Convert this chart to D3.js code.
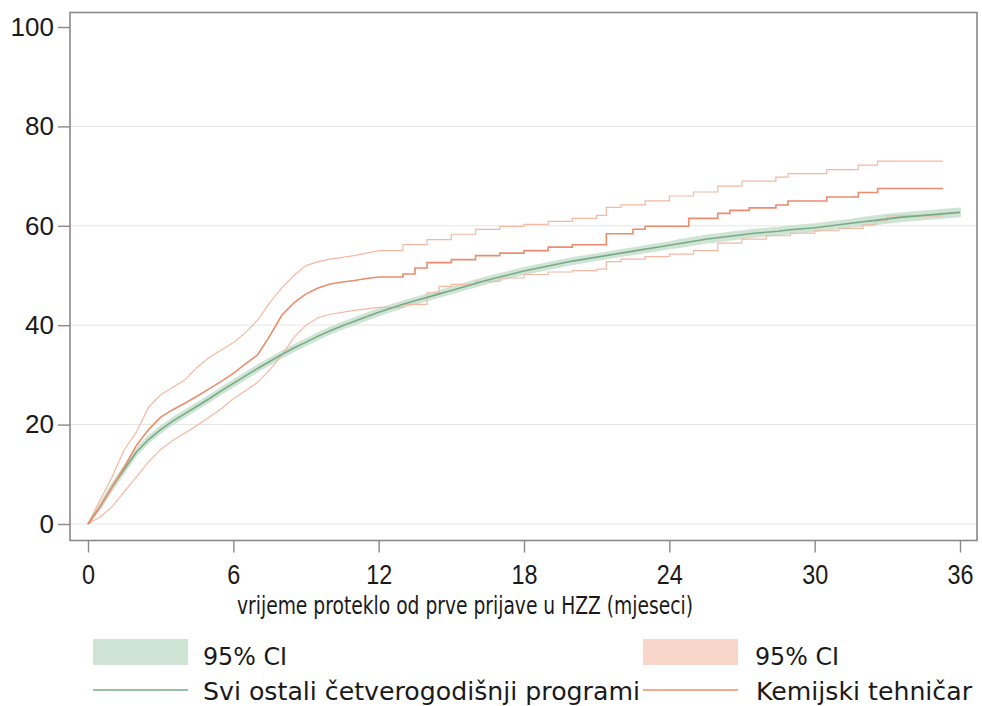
<!DOCTYPE html>
<html>
<head>
<meta charset="utf-8">
<script src="https://cdn.jsdelivr.net/npm/d3@7"></script>
<style>
  html, body { margin: 0; padding: 0; background: #fff; }
  svg { display: block; }
</style>
</head>
<body>
<svg id="chart" width="982" height="706"></svg>
<script>
// Kaplan–Meier failure estimates (% registered, cumulative) by months since first HZZ registration.
// Each entry: [month, percent].

const xTicks = [0, 6, 12, 18, 24, 30, 36];
const yTicks = [0, 20, 40, 60, 80, 100];
const gridValues = [0, 20, 40, 60, 80];

const seriesNames = ["Svi ostali četverogodišnji programi", "Kemijski tehničar"];
const ciLabel = "95% CI";
const xTitle = "vrijeme proteklo od prve prijave u HZZ (mjeseci)";

// All other four-year programmes: estimate
const otherEst = [
  [0,0],[0.5,3.5],[1,7.5],[1.5,11],[2,14.5],[2.5,17],[3,19],[3.5,20.7],[4,22.2],[4.5,23.7],
  [5,25.2],[5.5,26.8],[6,28.3],[6.5,29.8],[7,31.3],[7.5,32.7],[8,34.1],[8.5,35.4],[9,36.6],[9.5,37.8],
  [10,38.9],[10.5,39.9],[11,40.8],[11.5,41.7],[12,42.6],[12.5,43.4],[13,44.2],[13.5,44.9],[14,45.6],[14.5,46.3],
  [15,47.0],[15.5,47.7],[16,48.4],[16.5,49.1],[17,49.7],[17.5,50.3],[18,50.9],[18.5,51.4],[19,51.9],[19.5,52.4],
  [20,52.9],[20.5,53.3],[21,53.7],[21.5,54.1],[22,54.5],[22.5,54.9],[23,55.3],[23.5,55.7],[24,56.1],[24.5,56.5],
  [25,56.9],[25.5,57.3],[26,57.6],[26.5,57.9],[27,58.2],[27.5,58.5],[28,58.7],[28.5,58.9],[29,59.2],[29.5,59.4],
  [30,59.6],[30.5,59.9],[31,60.2],[31.5,60.5],[32,60.8],[32.5,61.1],[33,61.4],[33.5,61.7],[34,61.9],[34.5,62.1],
  [35,62.3],[35.5,62.5],[36,62.7]
];
// All other four-year programmes: 95% CI lower bound
const otherLo = [
  [0,0],[0.5,3.0],[1,6.9],[1.5,10.4],[2,13.9],[2.5,16.4],[3,18.4],[3.5,20.1],[4,21.6],[4.5,23.1],
  [5,24.6],[5.5,26.2],[6,27.7],[6.5,29.2],[7,30.7],[7.5,32.1],[8,33.5],[8.5,34.8],[9,36.0],[9.5,37.2],
  [10,38.3],[10.5,39.3],[11,40.2],[11.5,41.1],[12,42.0],[12.5,42.8],[13,43.6],[13.5,44.3],[14,45.0],[14.5,45.7],
  [15,46.4],[15.5,47.1],[16,47.8],[16.5,48.5],[17,49.1],[17.5,49.7],[18,50.3],[18.5,50.8],[19,51.3],[19.5,51.8],
  [20,52.3],[20.5,52.7],[21,53.1],[21.5,53.5],[22,53.9],[22.5,54.3],[23,54.7],[23.5,55.1],[24,55.5],[24.5,55.8],
  [25,56.2],[25.5,56.6],[26,56.9],[26.5,57.2],[27,57.5],[27.5,57.8],[28,58.0],[28.5,58.2],[29,58.5],[29.5,58.7],
  [30,58.9],[30.5,59.2],[31,59.5],[31.5,59.8],[32,60.0],[32.5,60.3],[33,60.6],[33.5,60.9],[34,61.1],[34.5,61.3],
  [35,61.5],[35.5,61.7],[36,61.9]
];
// All other four-year programmes: 95% CI upper bound
const otherHi = [
  [0,0],[0.5,4.0],[1,8.1],[1.5,11.6],[2,15.1],[2.5,17.6],[3,19.6],[3.5,21.3],[4,22.8],[4.5,24.3],
  [5,25.8],[5.5,27.4],[6,28.9],[6.5,30.4],[7,31.9],[7.5,33.3],[8,34.7],[8.5,36.0],[9,37.2],[9.5,38.4],
  [10,39.5],[10.5,40.5],[11,41.4],[11.5,42.3],[12,43.2],[12.5,44.0],[13,44.8],[13.5,45.5],[14,46.2],[14.5,46.9],
  [15,47.6],[15.5,48.3],[16,49.0],[16.5,49.7],[17,50.3],[17.5,50.9],[18,51.5],[18.5,52.0],[19,52.5],[19.5,53.0],
  [20,53.5],[20.5,53.9],[21,54.3],[21.5,54.7],[22,55.1],[22.5,55.5],[23,55.9],[23.5,56.3],[24,56.7],[24.5,57.2],
  [25,57.6],[25.5,58.0],[26,58.3],[26.5,58.6],[27,58.9],[27.5,59.2],[28,59.4],[28.5,59.6],[29,59.9],[29.5,60.1],
  [30,60.3],[30.5,60.6],[31,60.9],[31.5,61.2],[32,61.6],[32.5,61.9],[33,62.2],[33.5,62.5],[34,62.7],[34.5,62.9],
  [35,63.1],[35.5,63.3],[36,63.5]
];

// Chemical technician: estimate
const chemEst = [
  [0,0],[0.5,3.5],[1,7.5],[1.5,11.5],[2,15.8],[2.5,19],[3,21.5],[3.5,23],[4,24.3],[4.5,25.7],
  [5,27.2],[5.5,28.7],[6,30.3],[6.5,32.2],[7,34],[7.5,37.8],[8,42],[8.5,44.5],[9,46.3],[9.5,47.5],
  [10,48.3],[10.5,48.7],[11,49],[11.5,49.4],[12,49.7],[13,50.3],[13.5,51.5],[14,52.6],[15,53.2],[16,54],
  [17,54.5],[18,55],[19,55.7],[20,56.2],[21.4,58.4],[22.5,59.3],[23,59.9],[24.8,61.5],[26,62.5],[26.5,63.1],
  [27.3,63.6],[28.4,64.2],[28.9,65],[30.5,65.8],[31.8,66.7],[32.6,67.5],[35.3,67.5]
];
// Chemical technician: 95% CI lower bound
const chemLo = [
  [0,0],[0.5,1.4],[1,3.5],[1.5,6.5],[2,9.5],[2.5,12.5],[3,15],[3.5,16.8],[4,18.3],[4.5,19.8],
  [5,21.5],[5.5,23.2],[6,25.2],[6.5,26.8],[7,28.5],[7.5,31],[8,34],[8.5,37.5],[9,40],[9.5,41.5],
  [10,42.2],[11,43],[12,43.6],[13,44.2],[14,46.5],[14.5,47.8],[15,48.2],[16,48.8],[17,49.5],[18,50.2],
  [19,50.7],[20,51],[21,51.3],[21.4,52.8],[22,53.3],[23,53.8],[24,54.3],[25,55],[26,56.5],[27,57.3],
  [28,58],[29,58.5],[30,59],[31,59.5],[32,60.2],[32.5,61],[33,62],[35.3,62]
];
// Chemical technician: 95% CI upper bound
const chemHi = [
  [0,0],[0.5,4.8],[1,9.5],[1.5,15],[2,18.5],[2.5,23.5],[3,26],[3.5,27.5],[4,29],[4.5,31.5],
  [5,33.5],[5.5,35],[6,36.5],[6.5,38.5],[7,41],[7.5,44.5],[8,47.5],[8.5,50],[9,52],[9.5,52.8],
  [10,53.3],[11,54],[12,55],[13,56.2],[14,57.2],[15,58.3],[16,59.3],[17,59.9],[18,60.3],[19,60.9],
  [20,61.5],[21,62.1],[21.4,63.7],[22,64.2],[23,65],[24,66],[25,66.8],[26,68],[27,69],[28.4,69.8],
  [28.9,70.5],[30.5,71.3],[31.8,72.2],[32.6,73],[35.3,73]
];

const colors = {
  otherBand: "#cfe4d5",
  otherLine: "#78ab85",
  chemBand: "#f8d6c9",
  chemCI: "#f4b8a3",
  chemLine: "#ec8c6c",
  grid: "#e6e6e6",
  frame: "#8c8886",
  text: "#1a1a1a"
};

const svg = d3.select("#chart");

const frame = { left: 70, top: 12.5, right: 977, bottom: 540.5 };
const x = d3.scaleLinear().domain([0, 36]).range([88, 960]);
const y = d3.scaleLinear().domain([0, 100]).range([524, 27]);

// gridlines
svg.append("g")
  .selectAll("line")
  .data(gridValues)
  .join("line")
  .attr("x1", frame.left).attr("x2", frame.right)
  .attr("y1", d => y(d)).attr("y2", d => y(d))
  .attr("stroke", colors.grid).attr("stroke-width", 1);

// The large group has many tiny steps, so its curve is traced point to point;
// the small group steps visibly once its numbers thin out after the first year.
const denseLine = d3.line().x(d => x(d[0])).y(d => y(d[1]));
const stepLine = d3.line().curve(d3.curveStepAfter).x(d => x(d[0])).y(d => y(d[1]));
const stepFrom = 12;
const mixedPath = s =>
  denseLine(s.filter(d => d[0] <= stepFrom)) +
  stepLine(s.filter(d => d[0] >= stepFrom));

// green confidence band
const bandData = otherLo.map((d, i) => ({ m: d[0], lo: d[1], hi: otherHi[i][1] }));
svg.append("path")
  .datum(bandData)
  .attr("fill", colors.otherBand)
  .attr("stroke", colors.otherBand)
  .attr("stroke-width", 2)
  .attr("stroke-linejoin", "round")
  .attr("d", d3.area().x(d => x(d.m)).y0(d => y(d.lo)).y1(d => y(d.hi)));

// chemical technician CI bounds
[chemLo, chemHi].forEach(s => {
  svg.append("path").datum(s)
    .attr("fill", "none").attr("stroke", colors.chemCI).attr("stroke-width", 1.2)
    .attr("d", mixedPath);
});

// estimates
svg.append("path").datum(otherEst)
  .attr("fill", "none").attr("stroke", colors.otherLine).attr("stroke-width", 1.6)
  .attr("d", denseLine);
svg.append("path").datum(chemEst)
  .attr("fill", "none").attr("stroke", colors.chemLine).attr("stroke-width", 1.6)
  .attr("d", mixedPath);

// frame
svg.append("rect")
  .attr("x", frame.left).attr("y", frame.top)
  .attr("width", frame.right - frame.left).attr("height", frame.bottom - frame.top)
  .attr("fill", "none").attr("stroke", colors.frame).attr("stroke-width", 1.6);

// y axis
const yAxis = d3.axisLeft(y).tickValues(yTicks).tickSize(12).tickPadding(4).tickFormat(d3.format("d"));
const gy = svg.append("g").attr("transform", `translate(${frame.left},0)`).call(yAxis);
gy.select(".domain").remove();
gy.selectAll(".tick line").attr("stroke", colors.frame).attr("stroke-width", 1.4);
gy.selectAll(".tick text")
  .attr("font-family", "'Liberation Sans', Arial, sans-serif")
  .attr("font-size", 26).attr("fill", colors.text);

// x axis (labels slightly condensed)
const xAxis = d3.axisBottom(x).tickValues(xTicks).tickSize(12).tickPadding(12).tickFormat(d3.format("d"));
const gx = svg.append("g").attr("transform", `translate(0,${frame.bottom})`).call(xAxis);
gx.select(".domain").remove();
gx.selectAll(".tick line").attr("stroke", colors.frame).attr("stroke-width", 1.4);
gx.selectAll(".tick text")
  .attr("font-family", "'Liberation Sans', Arial, sans-serif")
  .attr("font-size", 28).attr("fill", colors.text)
  .attr("textLength", d => String(d).length * 13)
  .attr("lengthAdjust", "spacingAndGlyphs");

// x title
svg.append("text")
  .attr("x", 237).attr("y", 614)
  .attr("font-family", "'DejaVu Sans', sans-serif")
  .attr("font-size", 25).attr("fill", colors.text)
  .attr("textLength", 456).attr("lengthAdjust", "spacingAndGlyphs")
  .text(xTitle);

// legend
const legendFont = "'DejaVu Sans', sans-serif";
const legendItems = [
  { kind: "band", color: colors.otherBand, x: 93, y: 639, label: ciLabel, tx: 203, ty: 665, w: 84 },
  { kind: "band", color: colors.chemBand, x: 643, y: 639, label: ciLabel, tx: 755, ty: 665, w: 84 },
  { kind: "line", color: colors.otherLine, x: 93, y: 690, label: seriesNames[0], tx: 203, ty: 700, w: 437 },
  { kind: "line", color: colors.chemLine, x: 643, y: 690, label: seriesNames[1], tx: 756, ty: 700, w: 216 }
];
const lg = svg.append("g");
legendItems.forEach(it => {
  if (it.kind === "band") {
    lg.append("rect").attr("x", it.x).attr("y", it.y).attr("width", 95).attr("height", 26)
      .attr("fill", it.color);
  } else {
    lg.append("line").attr("x1", it.x).attr("x2", it.x + 95).attr("y1", it.y).attr("y2", it.y)
      .attr("stroke", it.color).attr("stroke-width", 1.6);
  }
  lg.append("text").attr("x", it.tx).attr("y", it.ty)
    .attr("font-family", legendFont).attr("font-size", 24).attr("fill", colors.text)
    .attr("textLength", it.w).attr("lengthAdjust", "spacingAndGlyphs")
    .text(it.label);
});
</script>
</body>
</html>
